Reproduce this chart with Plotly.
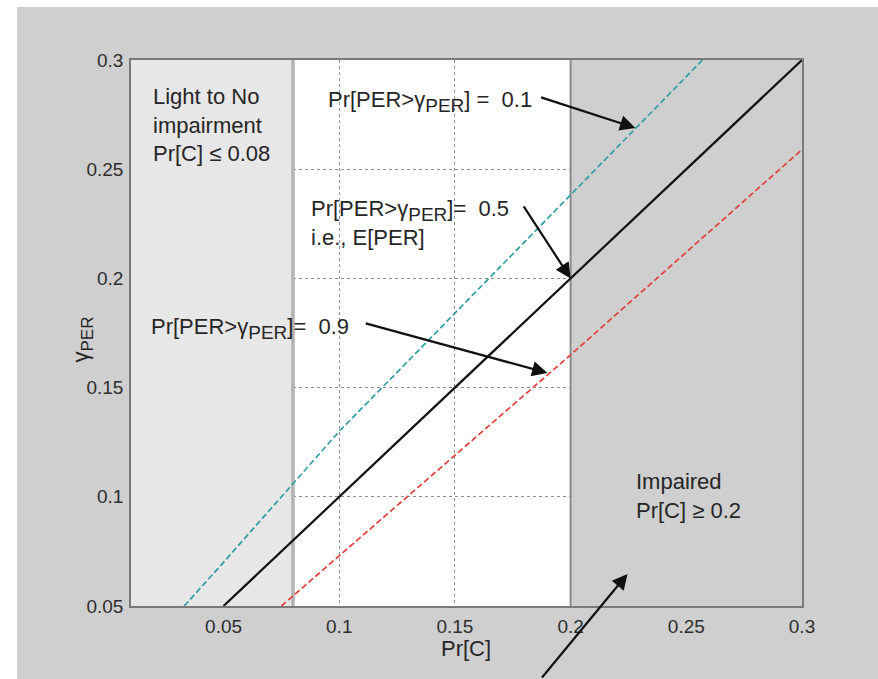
import plotly.graph_objects as go

# Quantile curves of PER threshold versus Pr[C]
cyan_x = [0.033, 0.05, 0.08, 0.10, 0.125, 0.15, 0.175, 0.20, 0.225, 0.257]
cyan_y = [0.050, 0.070, 0.106, 0.130, 0.157, 0.184, 0.211, 0.238, 0.265, 0.300]

black_x = [0.05, 0.10, 0.15, 0.20, 0.25, 0.30]
black_y = [0.05, 0.10, 0.15, 0.20, 0.25, 0.30]

red_x = [0.075, 0.10, 0.15, 0.20, 0.25, 0.30]
red_y = [0.050, 0.073, 0.119, 0.165, 0.212, 0.259]

x_ticks = [0.05, 0.10, 0.15, 0.20, 0.25, 0.30]
x_tick_labels = ["0.05", "0.1", "0.15", "0.2", "0.25", "0.3"]
y_ticks = [0.05, 0.10, 0.15, 0.20, 0.25, 0.30]
y_tick_labels = ["0.05", "0.1", "0.15", "0.2", "0.25", "0.3"]

light_limit = 0.08
impaired_limit = 0.2
x_range = [0.01, 0.30]
y_range = [0.05, 0.30]

FONT = "Liberation Sans, Arial, sans-serif"
TXT = "#262626"
BG_GRAY = "#cfcfcf"
SUB = "<sub><span style='font-size:19px'>PER</span></sub>"

fig = go.Figure()

fig.add_trace(go.Scatter(x=cyan_x, y=cyan_y, mode="lines",
                         line=dict(color="#2f9ea4", width=1.7, dash="6px,3px"),
                         showlegend=False, hoverinfo="skip"))
fig.add_trace(go.Scatter(x=black_x, y=black_y, mode="lines",
                         line=dict(color="#111111", width=2.2),
                         showlegend=False, hoverinfo="skip"))
fig.add_trace(go.Scatter(x=red_x, y=red_y, mode="lines",
                         line=dict(color="#e2403a", width=1.7, dash="6px,3px"),
                         showlegend=False, hoverinfo="skip"))

# Outer grey panel behind the axes
L, R, T, B = 131, 76, 60, 73
W, H = 878, 679
pw, ph = W - L - R, H - T - B
fig.add_shape(type="rect", xref="paper", yref="paper",
              x0=(17 - L) / pw, x1=1 + (R + 5) / pw,
              y0=-(B + 5) / ph, y1=1 + (T - 7) / ph,
              fillcolor=BG_GRAY, line=dict(width=0), layer="below")

# Regions of Pr[C]: white middle band sits under the grid, side bands cover it
fig.add_shape(type="rect", xref="x", yref="y", x0=light_limit, x1=impaired_limit,
              y0=y_range[0], y1=y_range[1], fillcolor="white",
              line=dict(width=0), layer="below")
fig.add_shape(type="rect", xref="x", yref="y", x0=x_range[0], x1=light_limit,
              y0=y_range[0], y1=y_range[1], fillcolor="#e7e7e7",
              line=dict(width=0), layer="between")
fig.add_shape(type="rect", xref="x", yref="y", x0=impaired_limit, x1=x_range[1],
              y0=y_range[0], y1=y_range[1], fillcolor=BG_GRAY,
              line=dict(width=0), layer="between")
fig.add_shape(type="line", xref="x", yref="y", x0=light_limit, x1=light_limit,
              y0=y_range[0], y1=y_range[1], line=dict(color="#b2b2b2", width=3.5),
              layer="between")
fig.add_shape(type="line", xref="x", yref="y", x0=impaired_limit, x1=impaired_limit,
              y0=y_range[0], y1=y_range[1], line=dict(color="#8a8a8a", width=2),
              layer="between")

ann_font = dict(family=FONT, size=22, color=TXT)

texts = [
    dict(x=0.0185, y=0.290, text="Light to No<br>impairment<br>Pr[C] ≤ 0.08",
         xanchor="left", yanchor="top"),
    dict(x=0.0944, y=0.2810, text="Pr[PER>γ" + SUB + "] =  0.1",
         xanchor="left", yanchor="middle"),
    dict(x=0.0871, y=0.2255, text="Pr[PER>γ" + SUB + "]=  0.5<br>i.e., E[PER]",
         xanchor="left", yanchor="middle"),
    dict(x=0.0177, y=0.1772, text="Pr[PER>γ" + SUB + "]=  0.9",
         xanchor="left", yanchor="middle"),
    dict(x=0.2272, y=0.1004, text="Impaired<br>Pr[C] ≥ 0.2",
         xanchor="left", yanchor="middle"),
]
for t in texts:
    fig.add_annotation(xref="x", yref="y", showarrow=False, align="left",
                       font=ann_font, **t)

# Arrows: (tail x, tail y) -> (head x, head y)
arrows = [
    (0.1866, 0.2831, 0.228, 0.2689),
    (0.1793, 0.2337, 0.200, 0.2000),
    (0.1108, 0.1796, 0.190, 0.1567),
    (0.1871, 0.0166, 0.2246, 0.0647),
]
for ax_, ay_, hx, hy in arrows:
    fig.add_annotation(x=hx, y=hy, ax=ax_, ay=ay_, xref="x", yref="y",
                       axref="x", ayref="y", text="", showarrow=True,
                       arrowhead=2, arrowsize=1.4, arrowwidth=2.2,
                       arrowcolor="#111111")

# Axis titles
fig.add_annotation(xref="x", yref="paper", x=0.1547, y=0, yshift=-42,
                   text="Pr[C]", showarrow=False, yanchor="middle",
                   font=dict(family=FONT, size=22, color=TXT))
fig.add_annotation(xref="paper", yref="y", x=0, xshift=-48, y=0.172,
                   text="γ<sub><span style='font-size:17px'>PER</span></sub>",
                   showarrow=False, textangle=-90,
                   xanchor="center", yanchor="middle",
                   font=dict(family=FONT, size=22, color=TXT))

axis_common = dict(showline=True, linecolor="#7a7a7a", linewidth=1.5, mirror=True,
                   showgrid=True, gridcolor="#8f8f8f", griddash="dot", gridwidth=1,
                   zeroline=False, ticks="",
                   tickfont=dict(family=FONT, size=19, color="#2e2e2e"))

fig.update_xaxes(range=x_range, tickvals=x_ticks, ticktext=x_tick_labels,
                 ticklabelstandoff=2, **axis_common)
fig.update_yaxes(range=y_range, tickvals=y_ticks, ticktext=y_tick_labels,
                 ticklabelstandoff=2, **axis_common)

fig.update_layout(width=W, height=H,
                  margin=dict(l=L, r=R, t=T, b=B),
                  paper_bgcolor="white", plot_bgcolor="white",
                  showlegend=False)

fig.write_html("out.html")
